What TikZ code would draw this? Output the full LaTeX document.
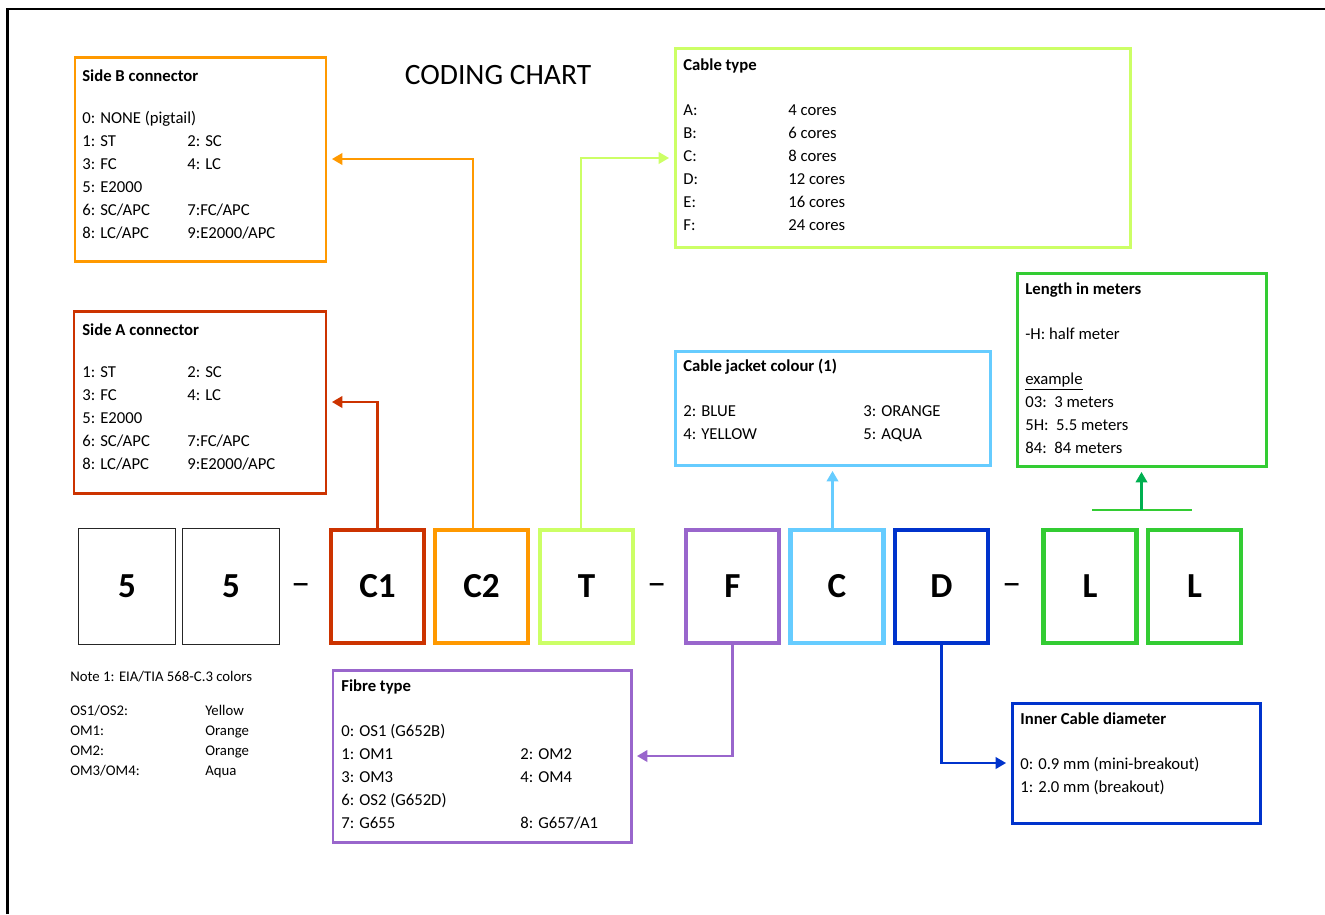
\documentclass[tikz,border=0pt]{standalone}
\usepackage{fontspec}
\setmainfont{Carlito}
\usetikzlibrary{arrows.meta, calc, fit, positioning}

\definecolor{cRed}{HTML}{CC3300}
\definecolor{cOrange}{HTML}{FF9900}
\definecolor{cLime}{HTML}{CCFF66}
\definecolor{cPurple}{HTML}{9966CC}
\definecolor{cSky}{HTML}{66CCFF}
\definecolor{cNavy}{HTML}{0033CC}
\definecolor{cGreen}{HTML}{33CC33}
\definecolor{cArrowGreen}{HTML}{00B050}

\tikzset{
    infobox/.style={draw, line width=1.7pt, inner sep=0pt},
    codebox/.style={draw, line width=2.5pt, minimum width=1.86cm, minimum height=2.26cm,
        font=\fontsize{20}{24}\selectfont\bfseries},
    plainbox/.style={draw=black!85, line width=1pt, minimum width=1.94cm, minimum height=2.32cm,
        font=\fontsize{20}{24}\selectfont\bfseries},
    dashtext/.style={font=\fontsize{22}{26}\selectfont},
    listtext/.style={anchor=north west, inner sep=0pt, align=left,
        font=\fontsize{9.5}{13.1}\selectfont},
    notetext/.style={anchor=north west, inner sep=0pt, align=left,
        font=\fontsize{8.4}{11.4}\selectfont},
    conn/.style={line width=1.5pt, -{Triangle[length=6pt,width=6.5pt]}, shorten >=2.5pt}
}

\begin{document}
\begin{tikzpicture}[x=0.02cm, y=-0.02cm]
    \useasboundingbox (0,0) rectangle (1325,914);
    \draw[line width=1.2pt] (7.5,914) -- (7.5,9) -- (1325,9);

    \node[font=\fontsize{16.8}{20}\selectfont] (title) at (498,75) {CODING CHART};

    % code row
    \node[plainbox] (N1) at (127,586.5) {5};
    \node[plainbox] (N2) at (231,586.5) {5};
    \node[dashtext] (dash1) at (301,590) {–};
    \node[codebox, draw=cRed] (C1) at (377.5,586.5) {C1};
    \node[codebox, draw=cOrange] (C2) at (481.5,586.5) {C2};
    \node[codebox, draw=cLime] (T) at (586.5,586.5) {T};
    \node[dashtext] (dash2) at (657,590) {–};
    \node[codebox, draw=cPurple] (F) at (732.5,586.5) {F};
    \node[codebox, draw=cSky] (C) at (837,586.5) {C};
    \node[codebox, draw=cNavy] (D) at (941.5,586.5) {D};
    \node[dashtext] (dash3) at (1012,590) {–};
    \node[codebox, draw=cGreen] (L1) at (1090,586.5) {L};
    \node[codebox, draw=cGreen] (L2) at (1194.5,586.5) {L};

    % info boxes
    \node[infobox, draw=cOrange, fit={(75,57) (326,261)}] (sideB) {};
    \node[listtext] (sideBlist) at (82,69) {\textbf{Side B connector}\\[11pt]
        0: NONE (pigtail)\\
        \makebox[2.1cm][l]{1: ST}2: SC\\
        \makebox[2.1cm][l]{3: FC}4: LC\\
        5: E2000\\
        \makebox[2.1cm][l]{6: SC/APC}7:FC/APC\\
        \makebox[2.1cm][l]{8: LC/APC}9:E2000/APC};

    \node[infobox, draw=cRed, fit={(74,311) (326,493)}] (sideA) {};
    \node[listtext] (sideAlist) at (82,323) {\textbf{Side A connector}\\[11pt]
        \makebox[2.1cm][l]{1: ST}2: SC\\
        \makebox[2.1cm][l]{3: FC}4: LC\\
        5: E2000\\
        \makebox[2.1cm][l]{6: SC/APC}7:FC/APC\\
        \makebox[2.1cm][l]{8: LC/APC}9:E2000/APC};

    \node[infobox, draw=cLime, fit={(675,48) (1130,247)}] (cable) {};
    \node[listtext] (cablelist) at (683,58) {\textbf{Cable type}\\[12.6pt]
        \makebox[2.1cm][l]{A:}4 cores\\
        \makebox[2.1cm][l]{B:}6 cores\\
        \makebox[2.1cm][l]{C:}8 cores\\
        \makebox[2.1cm][l]{D:}12 cores\\
        \makebox[2.1cm][l]{E:}16 cores\\
        \makebox[2.1cm][l]{F:}24 cores};

    \node[infobox, draw=cSky, fit={(675,351) (990,465)}] (jacket) {};
    \node[listtext] (jacketlist) at (683,359) {\textbf{Cable jacket colour (1)}\\[12.6pt]
        \makebox[3.6cm][l]{2: BLUE}3: ORANGE\\
        \makebox[3.6cm][l]{4: YELLOW}5: AQUA};

    \node[infobox, draw=cGreen, fit={(1017,273) (1266,466)}] (length) {};
    \node[listtext] (lengthlist) at (1025,282) {\textbf{Length in meters}\\[12.6pt]
        -H: half meter\\[12.6pt]
        \underline{example}\\
        03:\ \ 3 meters\\
        5H:\ \ 5.5 meters\\
        84:\ \ 84 meters};

    \node[infobox, draw=cPurple, fit={(333,670) (631,842)}] (fibre) {};
    \node[listtext] (fibrelist) at (341,679) {\textbf{Fibre type}\\[12.6pt]
        0: OS1 (G652B)\\
        \makebox[3.58cm][l]{1: OM1}2: OM2\\
        \makebox[3.58cm][l]{3: OM3}4: OM4\\
        6: OS2 (G652D)\\
        \makebox[3.58cm][l]{7: G655}8: G657/A1};

    \node[infobox, draw=cNavy, fit={(1012,703) (1260,823)}] (inner) {};
    \node[listtext] (innerlist) at (1020,712) {\textbf{Inner Cable diameter}\\[12.6pt]
        0: 0.9 mm (mini-breakout)\\
        1: 2.0 mm (breakout)};

    \node[notetext] (note) at (70,671) {Note 1: EIA/TIA 568-C.3 colors\\[7.9pt]
        \makebox[2.7cm][l]{OS1/OS2:}Yellow\\
        \makebox[2.7cm][l]{OM1:}Orange\\
        \makebox[2.7cm][l]{OM2:}Orange\\
        \makebox[2.7cm][l]{OM3/OM4:}Aqua};

    % connectors
    \draw[conn, cRed] (C1.north) |- (sideA.east);
    \draw[conn, cOrange] ($(C2.north)+(-8.5,0)$) |- (sideB.east);
    \draw[conn, cLime] ($(T.north)+(-5.5,0)$) |- ($(cable.west)+(0,10.5)$);
    \draw[conn, cSky] (jacket.south |- C.north) -- (jacket.south);
    \draw[conn, cPurple] (F.south) |- (fibre.east);
    \draw[conn, cNavy] (D.south) |- (inner.west);
    \coordinate (barL) at (1092,510);
    \coordinate (barR) at (1192,510);
    \draw[line width=1.5pt, cGreen] (barL) -- (barR);
    \draw[conn, cArrowGreen] (length.south |- barL) -- (length.south);
\end{tikzpicture}
\end{document}
